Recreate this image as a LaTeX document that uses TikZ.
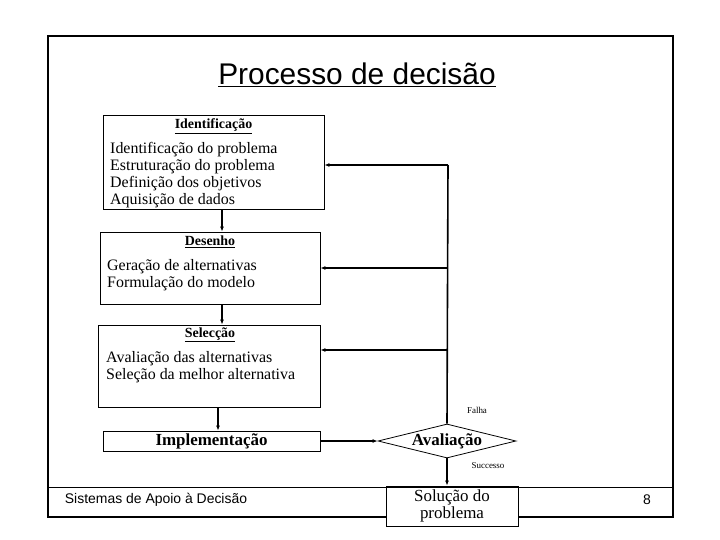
\documentclass[tikz,border=0pt]{standalone}
\usepackage{fontspec}
\setmainfont{Liberation Serif}
\setsansfont{Liberation Sans}
\usetikzlibrary{positioning,shapes.geometric,arrows.meta}
\tikzset{
  etapa/.style={draw, line width=0.8pt, inner sep=0pt},
  linha/.style={anchor=west, font=\fontsize{16}{16}\selectfont, inner sep=0pt},
  cabeca/.style={font=\bfseries\fontsize{14}{14}\selectfont},
  seta/.style={-{Latex[length=5pt,width=4pt]}, line width=1.6pt},
  rotulo/.style={font=\fontsize{9}{9}\selectfont, inner sep=0pt}
}
\begin{document}
\begin{tikzpicture}[x=1bp,y=-1bp]
\useasboundingbox (0,0) rectangle (720,540);
%\draw[help lines,step=20] (0,0) grid (720,540);

\draw [line width=2.5pt] (48,36) rectangle (673,517);
\node (titulo) at (357,75) {\fontsize{30}{30}\sffamily\selectfont\underline{Processo de decisão}};

% etapas
\node [etapa, minimum width=221bp, minimum height=94bp] (ident) at (213.5,162) {};
\node [cabeca] at (213.5,126) {\underline{Identificação}};
\node [linha] (i1) at (110,150) {Identificação do problema};
\node [linha] (i2) at (110,167) {Estruturação do problema};
\node [linha] (i3) at (110,184) {Definição dos objetivos};
\node [linha] (i4) at (110,201) {Aquisição de dados};

\node [etapa, minimum width=220bp, minimum height=72bp] (desenho) at (210,268) {};
\node [cabeca] at (210,242) {\underline{Desenho}};
\node [linha] (d1) at (107,267) {Geração de alternativas};
\node [linha] (d2) at (107,284) {Formulação do modelo};

\node [etapa, minimum width=222bp, minimum height=82bp] (selec) at (209,366) {};
\node [cabeca] at (210,335) {\underline{Selecção}};
\node [linha] (s1) at (106,359) {Avaliação das alternativas};
\node [linha] (s2) at (106,376) {Seleção da melhor alternativa};

\node [etapa, minimum width=217bp, minimum height=20bp, font=\bfseries\fontsize{17}{17}\selectfont] (implem) at (211.5,441) {Implementação};
\node [draw, diamond, aspect=4, line width=0.8pt, inner sep=0pt, minimum width=138bp, minimum height=34bp, font=\bfseries\fontsize{17}{17}\selectfont] (aval) at (447,441) {Avaliação};
\node [etapa, fill=white, minimum width=132bp, minimum height=40bp, align=center, font=\fontsize{17}{17}\selectfont] (solucao) at (452,506) {Solução do\\[0pt]problema};

% ligacoes
\draw [seta] (ident.south -| 222,0) -- (desenho.north -| 222,0);
\draw [seta] (desenho.south -| 222,0) -- (selec.north -| 222,0);
\draw [seta] (selec.south -| 218,0) -- (implem.north -| 218,0);
\draw [seta] (implem.east) -- (aval.west);
\draw [seta] (aval.south) -- (aval.south |- solucao.north);
\draw [line width=1.6pt] (aval.north) -- (448,165);
\draw [seta] (448,165) -- (ident.east |- 0,165);
\draw [seta] (448,268) -- (desenho.east |- 0,268);
\draw [seta] (448,350) -- (selec.east |- 0,350);
\node [rotulo] (falha) at (477,410) {Falha};
\node [rotulo] (sucesso) at (488,466) {Successo};

% rodape
\draw [line width=0.6pt] (48,487) -- (673,487);
\node [font=\sffamily\fontsize{14}{14}\selectfont] (rodape) at (156,500) {Sistemas de Apoio à Decisão};
\node [font=\sffamily\fontsize{14}{14}\selectfont] (pagina) at (647,500) {8};
\end{tikzpicture}
\end{document}
